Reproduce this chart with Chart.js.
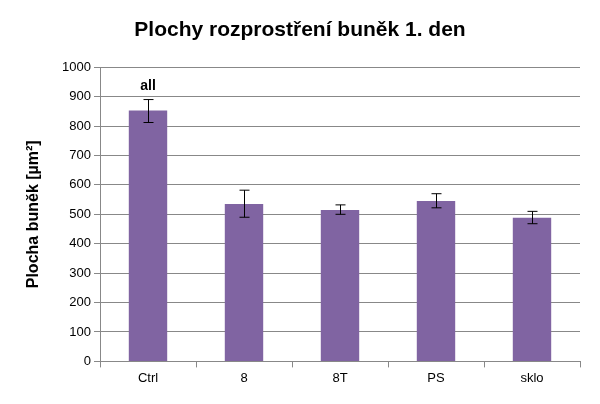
<!DOCTYPE html>
<html>
<head>
<meta charset="utf-8">
<script src="https://cdn.jsdelivr.net/npm/chart.js@4/dist/chart.umd.min.js"></script>
<style>
  html, body { margin: 0; padding: 0; background: #fff; }
  #wrap { width: 600px; height: 404px; }
</style>
</head>
<body>
<div id="wrap"><canvas id="c"></canvas></div>
<script>
var categories = ["Ctrl", "8", "8T", "PS", "sklo"];
var means = [853, 535, 515, 545, 488];
var errLow = [812, 490, 500, 522, 468];
var errHigh = [890, 582, 532, 570, 510];
var notes = ["all", "", "", "", ""];

var errorBars = {
  id: "errorBars",
  afterDatasetsDraw: function (chart) {
    var ctx = chart.ctx;
    var y = chart.scales.y;
    var meta = chart.getDatasetMeta(0);
    ctx.save();
    ctx.strokeStyle = "#000";
    ctx.lineWidth = 1;
    ctx.fillStyle = "#000";
    ctx.font = "bold 14px 'Liberation Sans', sans-serif";
    ctx.textAlign = "center";
    meta.data.forEach(function (bar, i) {
      var x = Math.round(bar.x) + 0.5;
      var top = y.getPixelForValue(errHigh[i]);
      var bot = y.getPixelForValue(errLow[i]);
      ctx.beginPath();
      ctx.moveTo(x, top); ctx.lineTo(x, bot);
      ctx.moveTo(x - 5, top); ctx.lineTo(x + 5, top);
      ctx.moveTo(x - 5, bot); ctx.lineTo(x + 5, bot);
      ctx.stroke();
      if (notes[i]) ctx.fillText(notes[i], bar.x, top - 10);
    });
    ctx.restore();
  }
};

new Chart(document.getElementById("c"), {
  type: "bar",
  data: {
    labels: categories,
    datasets: [{
      data: means,
      backgroundColor: "#8064A2",
      barPercentage: 0.4,
      categoryPercentage: 1
    }]
  },
  options: {
    responsive: true,
    maintainAspectRatio: false,
    animation: false,
    layout: { padding: { top: 8, right: 20, bottom: 15, left: 20 } },
    plugins: {
      legend: { display: false },
      tooltip: { enabled: false },
      title: {
        display: true,
        text: "Plochy rozprostření buněk 1. den",
        color: "#000",
        font: { family: "'Liberation Sans', sans-serif", size: 21, weight: "bold" },
        padding: { top: 10, bottom: 24 }
      }
    },
    scales: {
      x: {
        grid: { offset: true, drawOnChartArea: false, tickLength: 6, color: "#888" },
        border: { color: "#888" },
        ticks: { color: "#000", font: { family: "'Liberation Sans', sans-serif", size: 13 } }
      },
      y: {
        min: 0,
        max: 1000,
        afterFit: function (s) { s.width = 80; },
        grid: { color: "#888", tickLength: 6 },
        border: { color: "#888" },
        ticks: {
          stepSize: 100,
          color: "#000",
          font: { family: "'Liberation Sans', sans-serif", size: 13 },
          callback: function (v) { return String(v); }
        },
        title: {
          display: true,
          text: "Plocha buněk [µm²]",
          color: "#000",
          font: { family: "'Liberation Sans', sans-serif", size: 16, weight: "bold" }
        }
      }
    }
  },
  plugins: [errorBars]
});
</script>
</body>
</html>
